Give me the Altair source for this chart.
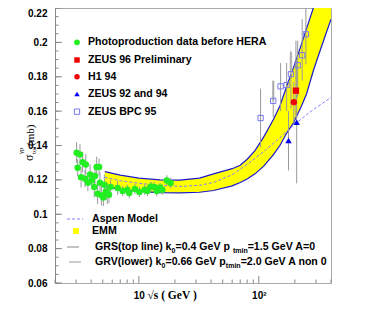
import altair as alt
import pandas as pd

# ---------------- data ----------------
photo_s = [3.03, 3.09, 3.23, 3.30, 3.40, 3.56, 3.61, 3.76, 3.92, 4.05, 4.25, 4.31, 4.45,
           4.53, 4.66, 4.74, 4.87, 5.06, 5.16, 5.33, 5.45, 5.64, 5.82, 6.66, 7.33, 8.01,
           8.32, 9.28, 10.1, 11.2, 11.8, 12.6, 13.4, 14.1, 15.0, 15.7, 17.1, 18.4]
photo_v = [0.1358, 0.1271, 0.1348, 0.1216, 0.1303, 0.1207, 0.1290, 0.1184, 0.1232, 0.1197,
           0.1158, 0.1222, 0.1275, 0.1120, 0.1275, 0.1184, 0.1110, 0.1097, 0.1172, 0.1133,
           0.1120, 0.1114, 0.1158, 0.1153, 0.1135, 0.1143, 0.1124, 0.1147, 0.1130, 0.1143,
           0.1136, 0.1161, 0.1158, 0.1135, 0.1155, 0.1143, 0.1197, 0.1182]
photo_e = [0.006, 0.005, 0.006, 0.006, 0.006, 0.005, 0.006, 0.005, 0.006, 0.005, 0.006,
           0.005, 0.006, 0.006, 0.005, 0.006, 0.006, 0.005, 0.006, 0.005, 0.006, 0.005,
           0.004, 0.004, 0.003, 0.003, 0.003, 0.003, 0.003, 0.003, 0.003, 0.003, 0.003,
           0.003, 0.003, 0.003, 0.003, 0.003]

bpc_s = [103.5, 131.9, 152.0, 170.6, 185.4, 211.0, 230.0, 247.0]
bpc_v = [0.1560, 0.1660, 0.1744, 0.1752, 0.1815, 0.1867, 0.1925, 0.2047]
bpc_lo = [0.139, 0.1565, 0.160, 0.160, 0.1615, 0.168, 0.1777, 0.1872]
bpc_hi = [0.173, 0.1777, 0.188, 0.188, 0.195, 0.201, 0.2135, 0.225]
bpc_sys_s = [131.9, 185.4]
bpc_sys_lo = [0.166, 0.1815]
bpc_sys_hi = [0.1777, 0.194]

zeus96_s = [204.0]
zeus96_v = [0.1719]
zeus96_lo = [0.1565]
zeus96_hi = [0.201]

h1_s = [196.0]
h1_v = [0.1652]
h1_lo = [0.153]
h1_hi = [0.177]

zeus9294_s = [177.0, 207.0]
zeus9294_v = [0.1429, 0.1535]
zeus9294_lo = [0.1255, 0.118]
zeus9294_hi = [0.160, 0.190]

band_s = [5.2, 7, 10, 15, 22, 32, 42, 60, 70, 80, 93, 110, 132, 150, 170, 194, 227, 250,
          285, 320, 400]
band_upper = [0.1248, 0.1228, 0.1210, 0.1200, 0.1198, 0.1210, 0.1235, 0.1265, 0.1285,
              0.1320, 0.1370, 0.1450, 0.1550, 0.1630, 0.1740, 0.1850, 0.1990, 0.2080,
              0.2200, 0.2350, 0.2700]
band_lower = [0.1162, 0.1145, 0.1133, 0.1126, 0.1124, 0.1128, 0.1138, 0.1165, 0.1185,
              0.1205, 0.1235, 0.1280, 0.1345, 0.1400, 0.1470, 0.1530, 0.1630, 0.1700,
              0.1835, 0.1940, 0.2135]

aspen_s = [5.2, 7, 10, 15, 22, 32, 42, 60, 80, 110, 150, 200, 280, 400]
aspen_v = [0.1215, 0.1195, 0.1180, 0.1168, 0.1162, 0.1168, 0.1185, 0.1230, 0.1290,
           0.1365, 0.1445, 0.1525, 0.1605, 0.1680]

y_tick_values = [0.06, 0.08, 0.1, 0.12, 0.14, 0.16, 0.18, 0.2, 0.22]
x_label_values = [10, 100]
x_minor_values = [2, 3, 4, 5, 6, 7, 8, 9, 20, 30, 40, 50, 60, 70, 80, 90, 200, 300, 400]

legend_top = ["Photoproduction data before HERA", "ZEUS 96 Preliminary", "H1 94",
              "ZEUS 92 and 94", "ZEUS BPC 95"]

# ---------------- styling ----------------
SANS = "Liberation Sans, Arial, Helvetica, sans-serif"
SERIF = "Liberation Serif, DejaVu Serif, Times New Roman, serif"
GREEN = "#22ee22"
RED = "#ee0000"
BLUE = "#0000ee"
LAV = "#7777ee"
YELLOW = "#ffff00"
LINEBLUE = "#1a1acc"
ASPEN = "#8080ff"
ERR = "#999999"

W, H = 276, 275
FS = 10.6
SUB = 7

x_scale = alt.Scale(type="log", domain=[2, 400], nice=False)
y_scale = alt.Scale(domain=[0.06, 0.22], nice=False, zero=False)

x_axis = alt.Axis(values=x_label_values,
                  labelExpr="datum.value == 100 ? '10²' : '10'",
                  ticks=False, domain=False, grid=False,
                  labelFont=SANS, labelFontWeight="bold", labelFontSize=10,
                  labelColor="black", labelPadding=7, labelFlush=False,
                  title="√s ( GeV )", titleFont=SERIF, titleFontWeight="bold",
                  titleFontSize=11.5, titleColor="black", titleX=92, titleY=15,
                  titleAlign="left", titleBaseline="alphabetic")
y_axis = alt.Axis(values=y_tick_values, labelExpr="format(datum.value, '~g')",
                  ticks=False, grid=False, domainColor="#888888",
                  labelFont=SANS, labelFontWeight="bold", labelFontSize=10,
                  labelColor="black", labelPadding=8, title=None,
                  labelBaseline={"condition": {"test": "datum.value > 0.21",
                                               "value": "top"},
                                 "value": "middle"})


def X(field="s"):
    return alt.X(f"{field}:Q", scale=x_scale, axis=x_axis)


def Y(field="v"):
    return alt.Y(f"{field}:Q", scale=y_scale, axis=y_axis)


layers = []

# EMM band
band_df = pd.DataFrame({"s": band_s, "lo": band_lower, "hi": band_upper})
layers.append(alt.Chart(band_df).mark_area(color=YELLOW, clip=True, opacity=1)
              .encode(x=X(), y=Y("lo"), y2="hi:Q"))
layers.append(alt.Chart(band_df).mark_line(color=LINEBLUE, strokeWidth=1.2, clip=True)
              .encode(x=X(), y=Y("hi")))
layers.append(alt.Chart(band_df).mark_line(color=LINEBLUE, strokeWidth=1.2, clip=True)
              .encode(x=X(), y=Y("lo")))

# Aspen model
aspen_df = pd.DataFrame({"s": aspen_s, "v": aspen_v})
layers.append(alt.Chart(aspen_df).mark_line(color=ASPEN, strokeWidth=1, strokeDash=[3, 2],
                                            clip=True)
              .encode(x=X(), y=Y()))

# error bars
photo_df = pd.DataFrame({"s": photo_s, "v": photo_v,
                         "lo": [v - e for v, e in zip(photo_v, photo_e)],
                         "hi": [v + e for v, e in zip(photo_v, photo_e)]})
bpc_df = pd.DataFrame({"s": bpc_s, "v": bpc_v, "lo": bpc_lo, "hi": bpc_hi})
sys_df = pd.DataFrame({"s": bpc_sys_s, "lo": bpc_sys_lo, "hi": bpc_sys_hi})
z96_df = pd.DataFrame({"s": zeus96_s, "v": zeus96_v, "lo": zeus96_lo, "hi": zeus96_hi})
h1_df = pd.DataFrame({"s": h1_s, "v": h1_v, "lo": h1_lo, "hi": h1_hi})
z92_df = pd.DataFrame({"s": zeus9294_s, "v": zeus9294_v, "lo": zeus9294_lo,
                       "hi": zeus9294_hi})

layers.append(alt.Chart(sys_df).mark_rule(color="#cccccc", strokeWidth=2.5, clip=True)
              .encode(x=X(), y=Y("lo"), y2="hi:Q"))
for df in (photo_df, bpc_df, z96_df, h1_df, z92_df):
    layers.append(alt.Chart(df).mark_rule(color=ERR, strokeWidth=1, clip=True)
                  .encode(x=X(), y=Y("lo"), y2="hi:Q"))

# points
layers.append(alt.Chart(photo_df).mark_point(shape="circle", filled=True, size=42,
                                             color=GREEN, opacity=1)
              .encode(x=X(), y=Y()))
layers.append(alt.Chart(bpc_df).mark_point(shape="square", filled=False, size=28,
                                           color=LAV, strokeWidth=1, opacity=1)
              .encode(x=X(), y=Y()))
layers.append(alt.Chart(z92_df).mark_point(shape="triangle-up", filled=True, size=42,
                                           color=BLUE, opacity=1)
              .encode(x=X(), y=Y()))
layers.append(alt.Chart(h1_df).mark_point(shape="circle", filled=True, size=40,
                                          color=RED, opacity=1)
              .encode(x=X(), y=Y()))
layers.append(alt.Chart(z96_df).mark_point(shape="square", filled=True, size=40,
                                           color=RED, opacity=1)
              .encode(x=X(), y=Y()))

# inside ticks
ymaj_df = pd.DataFrame({"v": y_tick_values})
ymin_df = pd.DataFrame({"v": [round(0.06 + 0.005 * i, 3) for i in range(33)]})
xmaj_df = pd.DataFrame({"s": x_label_values})
xmin_df = pd.DataFrame({"s": x_minor_values})
layers.append(alt.Chart(ymaj_df).mark_rule(color="#888888")
              .encode(y=Y(), x=alt.value(0), x2=alt.value(7)))
layers.append(alt.Chart(ymin_df).mark_rule(color="#888888")
              .encode(y=Y(), x=alt.value(0), x2=alt.value(3.5)))
layers.append(alt.Chart(xmaj_df).mark_rule(color="#888888")
              .encode(x=X(), y=alt.value(H), y2=alt.value(H - 7)))
layers.append(alt.Chart(xmin_df).mark_rule(color="#888888")
              .encode(x=X(), y=alt.value(H), y2=alt.value(H - 3.5)))

one = pd.DataFrame({"t": [""]})


def text_layer(txt, x, y, size=FS, font=SANS, weight="bold", angle=None,
               baseline="middle"):
    kw = dict(align="left", baseline=baseline, font=font, fontWeight=weight,
              fontSize=size, color="black", clip=False)
    if angle is not None:
        kw["angle"] = angle
    return (alt.Chart(pd.DataFrame({"t": [txt]})).mark_text(**kw)
            .encode(text="t:N", x=alt.value(x), y=alt.value(y)))


# Arial/Liberation Sans Bold advance widths (1/1000 em)
AW = {" ": 278, "(": 333, ")": 333, ".": 278, "=": 584, "A": 722, "E": 667, "G": 778,
      "H": 722, "M": 833, "P": 667, "R": 722, "S": 667, "U": 722, "V": 667, "Z": 611,
      "a": 556, "b": 611, "c": 556, "d": 611, "e": 556, "f": 333, "h": 611, "i": 278,
      "k": 556, "l": 278, "m": 889, "n": 611, "o": 611, "p": 611, "r": 389, "s": 556,
      "t": 333, "u": 611, "w": 778, "y": 556}


def tw(s, size):
    return sum(AW.get(c, 556) for c in s) / 1000.0 * size


def seg_text(segs, x0, y0):
    out = []
    x = x0
    for txt, sub in segs:
        size = SUB if sub else FS
        out.append(text_layer(txt.strip(), x, y0 + (3.5 if sub else 0), size=size))
        x += tw(txt, size)
    return out


# upper legend
rows_top = [34.3, 52, 68.7, 86, 103.7]
mk_x, tx_x = 22, 33
sym = [dict(shape="circle", filled=True, size=34, color=GREEN),
       dict(shape="square", filled=True, size=30, color=RED),
       dict(shape="circle", filled=True, size=30, color=RED),
       dict(shape="triangle-up", filled=True, size=30, color=BLUE),
       dict(shape="square", filled=False, size=28, color=LAV, strokeWidth=1)]
for lab, yy, sk in zip(legend_top, rows_top, sym):
    layers.append(alt.Chart(one).mark_point(opacity=1, clip=False, **sk)
                  .encode(x=alt.value(mk_x), y=alt.value(yy)))
    layers.append(text_layer(lab, tx_x, yy))

# lower legend
layers.append(alt.Chart(one).mark_rule(color=ASPEN, strokeDash=[3, 2], strokeWidth=1)
              .encode(x=alt.value(12), x2=alt.value(28), y=alt.value(211)))
layers.append(text_layer("Aspen Model", 37, 211))
layers.append(alt.Chart(one).mark_point(shape="square", filled=True, size=34,
                                        color=YELLOW, opacity=1)
              .encode(x=alt.value(21), y=alt.value(223)))
layers.append(text_layer("EMM", 37, 223))
layers.append(alt.Chart(one).mark_rule(color="#888888", strokeWidth=1)
              .encode(x=alt.value(12), x2=alt.value(24), y=alt.value(239)))
layers += seg_text([("GRS(top line) k", 0), ("0", 1), ("=0.4 GeV  p", 0), ("tmin", 1),
                    ("=1.5 GeV A=0", 0)], 40, 239)
layers.append(alt.Chart(one).mark_rule(color="#cccccc", strokeWidth=2)
              .encode(x=alt.value(14), x2=alt.value(26), y=alt.value(254)))
layers += seg_text([("GRV(lower) k", 0), ("0", 1), ("=0.66 GeV p", 0), ("tmin", 1),
                    ("=2.0 GeV A non 0", 0)], 40, 254)

# y title (rotated, with super/subscripts)
layers.append(text_layer("σ", -22, 153, size=12, font=SERIF, weight="normal",
                         angle=270, baseline="alphabetic"))
layers.append(text_layer("tot", -19.5, 146, size=7, font=SERIF, weight="normal",
                         angle=270, baseline="alphabetic"))
layers.append(text_layer("γp", -32, 146, size=7, font=SERIF, weight="normal",
                         angle=270, baseline="alphabetic"))
layers.append(text_layer("(mb)", -21, 138, size=11, font=SERIF, weight="normal",
                         angle=270, baseline="alphabetic"))

chart = (alt.layer(*layers)
         .properties(width=W, height=H,
                     autosize=alt.AutoSizeParams(type="none"),
                     padding={"left": 47, "top": 0, "right": 30, "bottom": 40},
                     background="white")
         .configure_view(stroke="#aaaaaa", strokeWidth=1))

chart.save("out.html", embed_options={"renderer": "svg", "actions": False})
